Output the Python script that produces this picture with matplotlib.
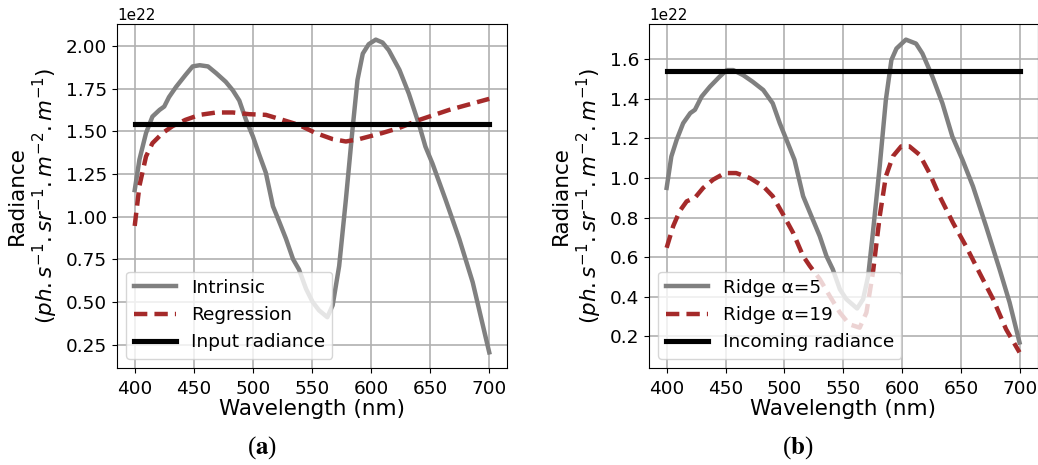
import matplotlib
matplotlib.use("Agg")
import matplotlib.pyplot as plt
import numpy as np

# Panel (a)
wl_int_a = [400, 404, 409.6, 415, 421, 425, 429, 435, 443, 449, 455, 462, 469, 477, 483, 488.5, 494, 500,
            505, 511, 517, 522, 528, 534, 539, 545, 550.5, 556, 563, 567.5, 573, 578.7, 584, 588.5, 593,
            598, 604, 609.7, 615, 624, 632, 641, 646, 652, 663, 674.6, 686, 700]
intrinsic = [1.155, 1.334, 1.49, 1.586, 1.625, 1.645, 1.70, 1.76, 1.83, 1.88, 1.887, 1.88, 1.84, 1.79, 1.74,
             1.68, 1.57, 1.47, 1.37, 1.256, 1.06, 0.975, 0.87, 0.75, 0.69, 0.576, 0.50, 0.45, 0.41, 0.48,
             0.71, 1.10, 1.49, 1.80, 1.955, 2.01, 2.037, 2.02, 1.975, 1.86, 1.72, 1.53, 1.41, 1.31, 1.10,
             0.87, 0.615, 0.204]
wl_reg_a = [400, 404, 409.6, 415, 423.7, 432, 443, 455, 469, 483, 497, 511, 525, 539, 553, 567.5, 578.7, 590,
            609.7, 624, 641, 666, 700]
regression = [0.945, 1.18, 1.353, 1.43, 1.49, 1.53, 1.567, 1.596, 1.61, 1.61, 1.60, 1.596, 1.567, 1.537,
              1.49, 1.454, 1.44, 1.454, 1.49, 1.52, 1.567, 1.625, 1.69]
input_radiance = 1.54

# Panel (b)
wl_r5 = [400, 404, 408.5, 414, 420, 424, 429.7, 436.7, 445, 451, 456.5, 465, 473, 482, 490, 496, 501.7,
         508.5, 515.8, 524, 529.9, 535.6, 541, 547, 552.5, 561.6, 566.7, 571, 575, 580.8, 586, 590.7, 595,
         603, 611.6, 617, 625.5, 634, 642.4, 651, 659.9, 671, 682.5, 691, 699.4]
ridge5 = [0.95, 1.109, 1.193, 1.277, 1.328, 1.345, 1.412, 1.462, 1.513, 1.546, 1.546, 1.52, 1.487, 1.445,
          1.378, 1.277, 1.193, 1.092, 0.908, 0.79, 0.706, 0.605, 0.538, 0.437, 0.387, 0.34, 0.387, 0.504,
          0.723, 1.06, 1.395, 1.597, 1.655, 1.70, 1.68, 1.63, 1.513, 1.378, 1.21, 1.092, 0.958, 0.756,
          0.538, 0.37, 0.168]
wl_r19 = [400, 405.6, 411, 417, 424, 431, 439.5, 449.4, 459, 470.6, 482, 490, 498.9, 507.3, 515.8, 521.5,
          530, 538.4, 547, 555, 563.8, 569.5, 575, 580.8, 586, 592, 599, 606, 614.7, 623, 631.6, 643, 654,
          665.5, 677, 688, 699.4]
ridge19 = [0.647, 0.757, 0.832, 0.882, 0.90, 0.95, 0.992, 1.025, 1.025, 1.0, 0.958, 0.908, 0.815, 0.723,
           0.605, 0.555, 0.488, 0.403, 0.319, 0.26, 0.243, 0.319, 0.52, 0.807, 1.008, 1.11, 1.16, 1.16,
           1.117, 1.025, 0.908, 0.773, 0.655, 0.52, 0.387, 0.235, 0.118]
incoming_radiance = 1.54

scale = 1e22
ylabel = "Radiance\n($ph.s^{-1}.sr^{-1}.m^{-2}.m^{-1}$)"

fig = plt.figure(figsize=(10.38, 4.65), dpi=100)
ax1 = fig.add_axes([0.1127, 0.2086, 0.3757, 0.7398])
ax2 = fig.add_axes([0.6252, 0.2086, 0.3747, 0.7398])

gray = "#808080"
red = "#a52a2a"
lw = 3.2

ax1.plot(wl_int_a, np.array(intrinsic) * scale, color=gray, lw=lw, label="Intrinsic")
ax1.plot(wl_reg_a, np.array(regression) * scale, color=red, lw=lw, ls=(0, (3, 1.6)), label="Regression")
ax1.plot([400, 700], [input_radiance * scale] * 2, color="black", lw=lw + 0.5, label="Input radiance")

ax2.plot(wl_r5, np.array(ridge5) * scale, color=gray, lw=lw, label="Ridge α=5")
ax2.plot(wl_r19, np.array(ridge19) * scale, color=red, lw=lw, ls=(0, (3, 1.6)), label="Ridge α=19")
ax2.plot([400, 700], [incoming_radiance * scale] * 2, color="black", lw=lw + 0.5, label="Incoming radiance")

ax1.set_yticks(np.array([0.25, 0.5, 0.75, 1.0, 1.25, 1.5, 1.75, 2.0]) * scale)
ax2.set_yticks(np.array([0.2, 0.4, 0.6, 0.8, 1.0, 1.2, 1.4, 1.6]) * scale)

for ax in (ax1, ax2):
    ax.set_xticks([400, 450, 500, 550, 600, 650, 700])
    ax.grid(True, color="#b0b0b0", lw=1.2)
    ax.set_axisbelow(True)
    ax.tick_params(labelsize=13.3)
    ax.tick_params(axis="x", pad=5)
    ax.yaxis.get_offset_text().set_fontsize(11)
    ax.set_xlabel("Wavelength (nm)", fontsize=15.5, labelpad=1)
    ax.set_ylabel(ylabel, fontsize=15.5)
    ax.legend(loc="lower left", fontsize=13.3, handlelength=2.3)

plt.rcParams['mathtext.fontset'] = 'stix'
fig.text(262 / 1038, 1 - 448 / 465, r"($\mathbf{a}$)", fontsize=18, family="Liberation Serif",
         ha="center", va="center")
fig.text(798 / 1038, 1 - 448 / 465, r"($\mathbf{b}$)", fontsize=18, family="Liberation Serif",
         ha="center", va="center")

fig.savefig("out.png", dpi=100)
